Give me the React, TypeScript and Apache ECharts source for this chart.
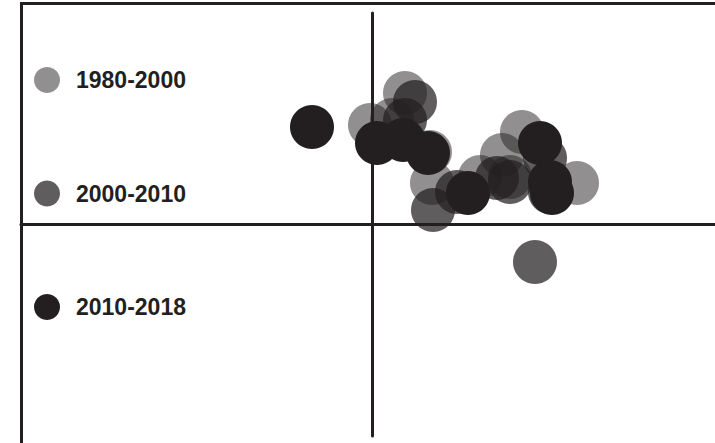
import React, { useEffect, useRef } from "react";
import * as echarts from "echarts";

const seriesNames = ["1980-2000", "2000-2010", "2010-2018"];

// Points as [x, y] in abstract units (quadrant chart, origin at axes crossing)
const points1980: number[][] = [
  [3.3, 13.15], [-0.2, 9.95], [2.0, 10.45], [5.8, 7.25], [6.0, 4.15],
  [10.8, 4.75], [13.0, 6.95], [15.0, 9.25], [20.5, 4.15], [13.8, 4.75],
];
const points2000: number[][] = [
  [4.3, 12.25], [3.3, 10.45], [6.1, 1.45], [8.5, 3.25], [12.5, 4.65],
  [13.8, 4.25], [17.3, 6.65], [16.3, -3.75], [17.8, 3.25],
];
const points2010: number[][] = [
  [-6.0, 9.75], [0.5, 8.15], [3.1, 8.45], [5.6, 7.15], [9.6, 3.15],
  [16.8, 8.15], [17.8, 4.25], [18.0, 3.15],
];

const colors = ["rgba(35,31,32,0.5)", "rgba(35,31,32,0.72)", "#231f20"];
const ink = "#231f20";

export default function App() {
  const ref = useRef<HTMLDivElement>(null);
  useEffect(() => {
    if (!ref.current) return;
    const chart = echarts.init(ref.current, null, { renderer: "svg" });
    const datasets = [points1980, points2000, points2010];
    chart.setOption({
      animation: false,
      backgroundColor: "#ffffff",
      grid: { left: 21, right: 0, top: 13, bottom: 7 },
      xAxis: {
        type: "value",
        min: -35.1,
        max: 34.3,
        axisLine: { onZero: true, lineStyle: { color: ink, width: 3 } },
        axisTick: { show: false },
        axisLabel: { show: false },
        splitLine: { show: false },
      },
      yAxis: {
        type: "value",
        min: -21.15,
        max: 21.15,
        axisLine: { onZero: true, lineStyle: { color: ink, width: 3 } },
        axisTick: { show: false },
        axisLabel: { show: false },
        splitLine: { show: false },
      },
      legend: {
        orient: "vertical",
        left: 34,
        top: 67,
        padding: 0,
        itemWidth: 26,
        itemHeight: 26,
        itemGap: 87.5,
        icon: "circle",
        selectedMode: false,
        data: seriesNames,
        textStyle: {
          fontFamily: "'Liberation Sans', Arial, Helvetica, sans-serif",
          fontWeight: "bold",
          fontSize: 23,
          color: ink,
          padding: [0, 0, 0, 11],
        },
      },
      graphic: [
        {
          type: "line",
          shape: { x1: 20, y1: 3.5, x2: 715, y2: 3.5 },
          style: { stroke: ink, lineWidth: 3 },
        },
        {
          type: "line",
          shape: { x1: 21.5, y1: 2, x2: 21.5, y2: 443 },
          style: { stroke: ink, lineWidth: 3 },
        },
      ],
      series: seriesNames.map((name, i) => ({
        name,
        type: "scatter",
        symbol: "circle",
        symbolSize: 44,
        data: datasets[i],
        itemStyle: { color: colors[i], opacity: 1 },
        emphasis: { disabled: true },
      })),
    });
    return () => chart.dispose();
  }, []);
  return (
    <div
      ref={ref}
      style={{ position: "fixed", left: 0, top: 0, width: 715, height: 443 }}
    />
  );
}
